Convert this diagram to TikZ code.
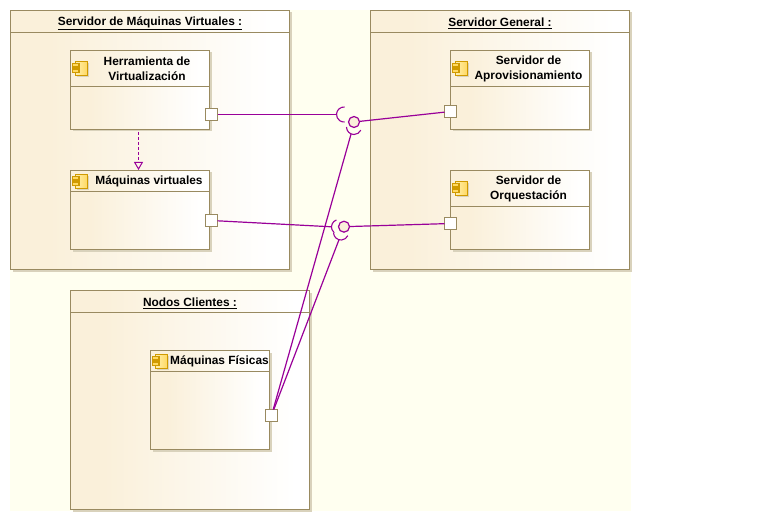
\documentclass[tikz,border=0pt]{standalone}
\usepackage{fontspec}
\setmainfont{Liberation Sans}
\usetikzlibrary{arrows.meta,shadows,calc}
\definecolor{umlline}{HTML}{998A60}
\definecolor{umlfill}{HTML}{FAF0DA}
\definecolor{umlbg}{HTML}{FFFFF0}
\definecolor{umlshadow}{HTML}{D9D2BC}
\definecolor{umlconn}{HTML}{990099}
\definecolor{iconline}{HTML}{D09A00}
\definecolor{iconfill}{HTML}{FFD860}
\definecolor{iconlight}{HTML}{FFF0B0}
\pgfdeclarehorizontalshading{umlgrad}{100bp}{color(0bp)=(umlfill); color(32bp)=(umlfill); color(72bp)=(white); color(100bp)=(white)}
\tikzset{
  every node/.style={inner sep=0pt,outer sep=0pt},
  boxbase/.style={draw=umlline,line width=1.2pt,shading=umlgrad,anchor=north west,
    general shadow={shadow xshift=2pt,shadow yshift=-2pt,fill=umlshadow}},
  frame/.style={boxbase,minimum width=#1},
  comp/.style={boxbase,minimum width=139pt,minimum height=79pt},
  port/.style={draw=umlline,line width=1.2pt,fill=white,minimum size=12pt},
  ball/.style={circle,draw=umlconn,line width=1.2pt,fill=umlfill,minimum size=11pt},
  conn/.style={draw=umlconn,line width=1.2pt},
  sock/.style={draw=umlconn,line width=1.1pt},
  divider/.style={draw=umlline,line width=1.2pt},
  lbl/.style={font=\fontsize{11.9}{15}\selectfont\bfseries,text=black,align=center,anchor=center},
  dep/.style={draw=umlconn,line width=1.1pt,dash pattern=on 3pt off 2pt,
    -{Triangle[open,length=8pt,width=9pt,line width=1pt]}},
  compicon/.pic={
    \fill[umlshadow] (5,2) rectangle (17,16);
    \draw[iconline,line width=1.3pt,left color=iconlight,right color=iconfill] (3.5,0.5) rectangle (15.5,14.5);
    \draw[iconline,line width=1.3pt,fill=iconfill] (0.5,2.8) rectangle (7,6);
    \draw[iconline,line width=1.3pt,fill=iconfill] (0.5,8) rectangle (7,11.5);
  },
}
\begin{document}
\begin{tikzpicture}[x=1pt,y=-1pt]
\useasboundingbox (0,0) rectangle (762,521);
\fill[umlbg] (10,10) rectangle (631,511);
% outer frames
\node[frame=279pt,minimum height=259pt] (fl) at (10.5,10.5) {};
\node[frame=259pt,minimum height=259pt] (fr) at (370.5,10.5) {};
\node[frame=239pt,minimum height=219pt] (fc) at (70.5,290.5) {};
\draw[divider] (10.5,32.5) -- (289.5,32.5);
\draw[divider] (370.5,32.5) -- (629.5,32.5);
\draw[divider] (70.5,312.5) -- (309.5,312.5);
\node[lbl] (tl) at (150,23) {\underline{Servidor de Máquinas Virtuales :}};
\node[lbl] (tr) at (500,23) {\underline{Servidor General :}};
\node[lbl] (tc) at (190,303) {\underline{Nodos Clientes :}};
% components
\node[comp] (herr) at (70.5,50.5) {};
\node[comp] (mv) at (70.5,170.5) {};
\node[comp] (apr) at (450.5,50.5) {};
\node[comp] (orq) at (450.5,170.5) {};
\node[boxbase,minimum width=119pt,minimum height=99pt] (mf) at (150.5,350.5) {};
\draw[divider] (70.5,86.5) -- (209.5,86.5);
\draw[divider] (70.5,191.5) -- (209.5,191.5);
\draw[divider] (450.5,86.5) -- (589.5,86.5);
\draw[divider] (450.5,206.5) -- (589.5,206.5);
\draw[divider] (150.5,371.5) -- (269.5,371.5);
\pic at (72,61) {compicon};
\pic at (72,174) {compicon};
\pic at (452,61) {compicon};
\pic at (452,181) {compicon};
\pic at (152,354) {compicon};
\node[lbl] (therr) at (147,69) {Herramienta de\\Virtualización};
\node[lbl] (tmv) at (149,181.5) {Máquinas virtuales};
\node[lbl] (tapr) at (528.5,69) {Servidor de\\Aprovisionamiento};
\node[lbl] (torq) at (528.5,189) {Servidor de\\Orquestación};
\node[lbl] (tmf) at (219.5,361.5) {Máquinas Físicas};
% ports
\node[port] (p1) at (211.5,114.5) {};
\node[port] (p2) at (211.5,220.5) {};
\node[port] (p3) at (450.5,111.5) {};
\node[port] (p4) at (450.5,223.5) {};
\node[port] (p5) at (271.5,415.5) {};
% balls and sockets
\node[ball] (b1) at (354,122) {};
\node[ball] (b2) at (344,226.7) {};
\coordinate (s1) at (336.5,114.5);
\coordinate (s2) at (351,134.2);
\coordinate (s3) at (331.5,226.8);
\coordinate (s4) at (339,239.7);
\draw[sock] (344,114.5) ++(275:7.5) arc[start angle=275,end angle=85,radius=7.5];
\draw[sock] (354,127) ++(180:7.5) arc[start angle=180,end angle=25,radius=7.5];
\draw[sock] (339,227) ++(250:7.5) arc[start angle=250,end angle=130,radius=7.5];
\draw[sock] (341,232.5) ++(175:7.5) arc[start angle=175,end angle=25,radius=7.5];
% connectors
\draw[conn] (p1) -- (s1);
\draw[conn] (p2) -- (s3);
\draw[conn] (b1) -- (p3);
\draw[conn] (b2) -- (p4);
\draw[conn] (p5) -- (s2);
\draw[conn] (p5) -- (s4);
\draw[dep] (138.5,132) -- (138.5,170);
\end{tikzpicture}
\end{document}
